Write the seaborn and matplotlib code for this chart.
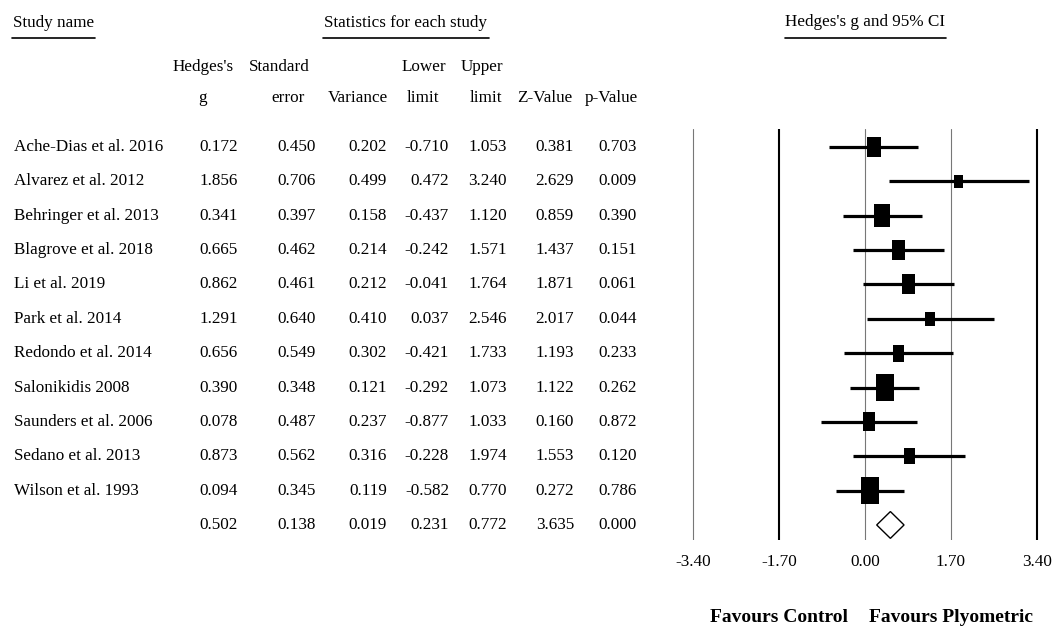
import numpy as np
import pandas as pd
import matplotlib
matplotlib.use("Agg")
import matplotlib.pyplot as plt
import matplotlib.transforms as mtransforms
from matplotlib.lines import Line2D
from matplotlib.path import Path
import seaborn as sns

# ---------------- data ----------------
studies = [
    "Ache-Dias et al. 2016", "Alvarez et al. 2012", "Behringer et al. 2013",
    "Blagrove et al. 2018", "Li et al. 2019", "Park et al. 2014",
    "Redondo et al. 2014", "Salonikidis 2008", "Saunders et al. 2006",
    "Sedano et al. 2013", "Wilson et al. 1993",
]
hedges_g = [0.172, 1.856, 0.341, 0.665, 0.862, 1.291, 0.656, 0.390, 0.078, 0.873, 0.094]
std_err = [0.450, 0.706, 0.397, 0.462, 0.461, 0.640, 0.549, 0.348, 0.487, 0.562, 0.345]
variance = [0.202, 0.499, 0.158, 0.214, 0.212, 0.410, 0.302, 0.121, 0.237, 0.316, 0.119]
lower_limit = [-0.710, 0.472, -0.437, -0.242, -0.041, 0.037, -0.421, -0.292, -0.877, -0.228, -0.582]
upper_limit = [1.053, 3.240, 1.120, 1.571, 1.764, 2.546, 1.733, 1.073, 1.033, 1.974, 0.770]
z_value = [0.381, 2.629, 0.859, 1.437, 1.871, 2.017, 1.193, 1.122, 0.160, 1.553, 0.272]
p_value = [0.703, 0.009, 0.390, 0.151, 0.061, 0.044, 0.233, 0.262, 0.872, 0.120, 0.786]

pooled_g = 0.502
pooled_se = 0.138
pooled_var = 0.019
pooled_lower = 0.231
pooled_upper = 0.772
pooled_z = 3.635
pooled_p = 0.000

tick_values = [-3.40, -1.70, 0.00, 1.70, 3.40]
column_headers = [("Hedges's", "g"), ("Standard", "error"), ("", "Variance"),
                  ("Lower", "limit"), ("Upper", "limit"), ("", "Z-Value"), ("", "p-Value")]

# ---------------- style ----------------
sns.set_theme(style="white")
plt.rcParams["font.family"] = ["Liberation Serif", "DejaVu Serif"]
plt.rcParams["text.color"] = "black"
plt.rcParams["xtick.color"] = "black"
plt.rcParams["xtick.labelcolor"] = "black"
FS = 12.3

W, H = 1062, 626
fig = plt.figure(figsize=(W / 100, H / 100), dpi=100)
fig.patch.set_facecolor("white")


def fx(px):
    return px / W


def fy(py):
    return 1 - py / H


# forest panel: x in effect-size units, y in row index
x_lo, x_hi = -3.75, 3.75
px_per_unit = 344 / 6.8
ax_left = 865 - (0 - x_lo) * px_per_unit
ax_w = (x_hi - x_lo) * px_per_unit
ax_top, ax_bot = 129, 540
ax = fig.add_axes([fx(ax_left), fy(ax_bot), ax_w / W, (ax_bot - ax_top) / H])
row_gap = 34.36
first_row_px = 147
ax.set_xlim(x_lo, x_hi)
ax.set_ylim((ax_bot - first_row_px) / row_gap, (ax_top - first_row_px) / row_gap)
ax.set_facecolor("white")
for s in ax.spines.values():
    s.set_visible(False)

n = len(studies)
rows = np.arange(n)
summary_row = n

# reference lines
line_colors = ["#777777", "black", "#777777", "#777777", "black"]
line_widths = [0.8, 1.5, 0.8, 0.8, 1.5]
for v, c, lw in zip(tick_values, line_colors, line_widths):
    ax.axvline(v, color=c, lw=lw, zorder=1)

# confidence intervals
ax.hlines(rows, lower_limit, upper_limit, color="black", linewidth=2.3, zorder=2)

# study weights as rectangles (area proportional to inverse variance)
df = pd.DataFrame({"g": hedges_g, "row": rows, "weight": 1 / np.array(variance)})
wmax = df["weight"].max()
rect = Path([(-0.34, -0.5), (0.34, -0.5), (0.34, 0.5), (-0.34, 0.5), (-0.34, -0.5)],
            [Path.MOVETO, Path.LINETO, Path.LINETO, Path.LINETO, Path.CLOSEPOLY])
sns.scatterplot(data=df, x="g", y="row", size="weight", sizes=(0, 43.7 * wmax),
                size_norm=(0, wmax), marker=rect, color="black", edgecolor="none",
                linewidth=0, legend=False, ax=ax, zorder=3)

# pooled estimate diamond
half_h = 0.39
ax.fill([pooled_lower, pooled_g, pooled_upper, pooled_g],
        [summary_row, summary_row - half_h, summary_row, summary_row + half_h],
        facecolor="white", edgecolor="black", linewidth=1.0, zorder=3)

ax.set_xticks(tick_values)
ax.set_xticklabels([f"{v:.2f}" for v in tick_values], fontsize=FS, color="black")
ax.tick_params(axis="x", length=0, pad=10)
ax.set_yticks([])
ax.set_xlabel("")
ax.set_ylabel("")

# ---------------- table ----------------
row_tr = mtransforms.blended_transform_factory(fig.transFigure, ax.transData)
name_x = 14
col_right = [238, 316, 387, 449, 507, 574, 637]
columns = [hedges_g, std_err, variance, lower_limit, upper_limit, z_value, p_value]
pooled_vals = [pooled_g, pooled_se, pooled_var, pooled_lower, pooled_upper, pooled_z, pooled_p]

for i, name in enumerate(studies):
    fig.text(fx(name_x), i, name, transform=row_tr, ha="left", va="center", fontsize=FS)
    for xr, col in zip(col_right, columns):
        fig.text(fx(xr), i, f"{col[i]:.3f}", transform=row_tr, ha="right",
                 va="center", fontsize=FS)
for xr, v in zip(col_right, pooled_vals):
    fig.text(fx(xr), summary_row, f"{v:.3f}", transform=row_tr, ha="right",
             va="center", fontsize=FS)

# column headers
header_cx = [(203, 203), (279, 288), (358, 358), (424, 423), (482, 486), (545, 545), (611, 611)]
for (l1, l2), (c1, c2) in zip(column_headers, header_cx):
    if l1:
        fig.text(fx(c1), fy(67), l1, ha="center", va="center", fontsize=FS)
    fig.text(fx(c2), fy(98), l2, ha="center", va="center", fontsize=FS)

# section titles with underlines
fig.text(fx(13), fy(23), "Study name", ha="left", va="center", fontsize=FS)
fig.text(fx(406), fy(23), "Statistics for each study", ha="center", va="center", fontsize=FS)
fig.text(fx(865), fy(22), "Hedges's g and 95% CI", ha="center", va="center", fontsize=FS)
for x0, x1 in [(12, 95), (323, 489), (785, 946)]:
    fig.add_artist(Line2D([fx(x0), fx(x1)], [fy(38), fy(38)], transform=fig.transFigure,
                          color="black", linewidth=1.2))

# direction labels under the axis
lab_tr = mtransforms.blended_transform_factory(ax.transData, fig.transFigure)
fig.text(-1.70, fy(617), "Favours Control", transform=lab_tr, ha="center", va="center",
         fontsize=14, fontweight="bold")
fig.text(1.70, fy(617), "Favours Plyometric", transform=lab_tr, ha="center", va="center",
         fontsize=14, fontweight="bold")

fig.savefig("out.png", dpi=100, facecolor="white")
